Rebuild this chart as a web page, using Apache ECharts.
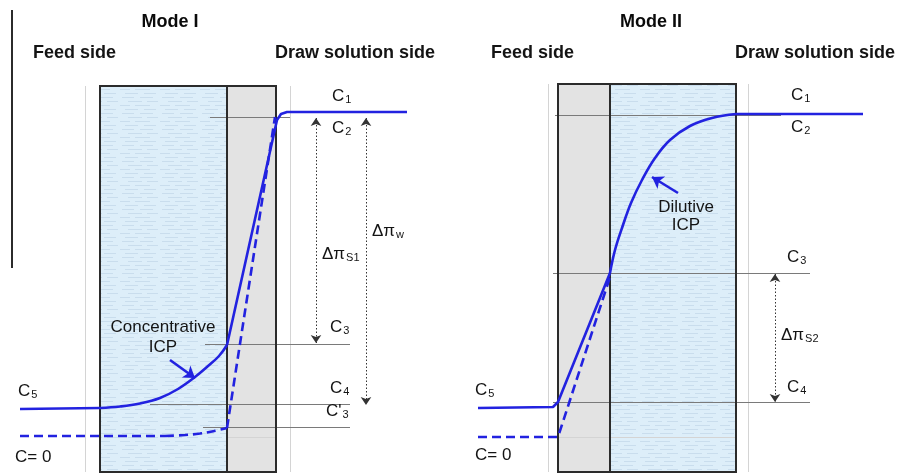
<!DOCTYPE html>
<html><head><meta charset="utf-8">
<script src="https://cdn.jsdelivr.net/npm/echarts@6/dist/echarts.min.js"></script>
<style>html,body{margin:0;padding:0;background:#fff}#c{width:898px;height:475px}</style>
</head><body><div id="c"></div>
<script>
// ---- data (diagram units = pixel-like scale of the schematic) ----
// membrane layers: [x0, y0, x1, y1, layer]
const membraneLayers = [
  [100, 86, 227, 472, 'support'], [227, 86, 276, 472, 'active'],
  [558, 84, 610, 472, 'active'], [610, 84, 736, 472, 'support']
];
const membraneOutlines = [[100, 86, 276, 472], [558, 84, 736, 472]];
const membraneDividers = [[227, 86, 227, 472], [610, 84, 610, 472]];

// concentration profiles
const modeISolidFlat = [[20, 409], [100, 408]];
const modeISolidICP = [[100, 408], [120, 406.5], [140, 403.5], [160, 398], [178, 389], [195, 377], [208, 366], [219, 356], [227, 345]];
const modeISolidActive = [[227, 345], [277, 120], [281, 114], [287, 112], [407, 112]];
const modeIDashedFlat = [[20, 436], [165, 436]];
const modeIDashedCurve = [[165, 436], [185, 435], [200, 433.5], [214, 431], [227, 428]];
const modeIDashedActive = [[227, 428], [275, 117]];
const modeIISolidFlat = [[863, 114], [736, 114]];
const modeIISolidICP = [[736, 114], [712, 118], [690, 126], [670, 140], [655, 158], [642, 180], [631, 203], [622, 228], [615, 250], [610, 273]];
const modeIISolidActive = [[610, 273], [558, 402], [553, 407], [478, 408]];
const modeIIDashed = [[478, 437], [558, 437], [610, 277]];

// concentration level guides: [x0, y0, x1, y1]
const levelGuides = [
  [210, 117, 290, 117], [205, 344, 350, 344], [150, 404, 350, 404], [203, 427, 350, 427],
  [555, 115, 781, 115], [553, 273, 810, 273], [553, 402, 810, 402]
];
const faintGuides = [
  [227, 437, 276, 437], [558, 437, 736, 437],
  [85, 86, 85, 472], [290, 86, 290, 472], [548, 84, 548, 472], [748, 84, 748, 472]
];
const sideBar = [[12, 10, 12, 268]];
const deltaArrows = [[316, 118, 316, 343], [366, 118, 366, 405], [775, 274, 775, 402]];
const icpPointers = [[170, 360, 195, 378], [678, 193, 652, 177]];

// texts: [text, x, y]
const sideTexts = [
  ['Feed side', 33, 53], ['Draw solution side', 275, 53],
  ['Feed side', 491, 53], ['Draw solution side', 735, 53]
];
const levelTexts = [
  ['C_1', 332, 96], ['C_2', 332, 128], ['Δπ_w', 372, 231], ['Δπ_S1', 322, 254],
  ['C_3', 330, 327], ['C_4', 330, 388], ["C'_3", 326, 411], ['C_5', 18, 391], ['C= 0', 15, 457],
  ['C_1', 791, 95], ['C_2', 791, 127], ['C_3', 787, 257], ['Δπ_S2', 781, 335],
  ['C_4', 787, 387], ['C_5', 475, 390], ['C= 0', 475, 455]
];
const centerTexts = [
  ['Concentrative', 163, 327], ['ICP', 163, 347], ['Dilutive', 686, 207], ['ICP', 686, 225]
];
const titleTexts = [['Mode I', 170, 22], ['Mode II', 651, 22]];

// ---- rendering ----
const pc = document.createElement('canvas');
pc.width = 40; pc.height = 16;
const g = pc.getContext('2d');
g.fillStyle = '#ddeef9'; g.fillRect(0, 0, 40, 16);
g.strokeStyle = 'rgba(150,180,210,0.28)'; g.lineWidth = 1;
[[1.5, 2, 14], [1.5, 20, 33], [5.5, 8, 22], [5.5, 27, 38], [9.5, 0, 10], [9.5, 15, 30], [13.5, 5, 18], [13.5, 24, 36]]
  .forEach(function (d) { g.beginPath(); g.moveTo(d[1], d[0]); g.lineTo(d[2], d[0]); g.stroke(); });
const supportFill = { image: pc, repeat: 'repeat' };

const FONT = 'Liberation Sans, Arial, sans-serif';
const BLUE = '#2222e0';
const INK = '#141414';

function segs(arr) { return arr.map(function (s) { return { coords: [[s[0], s[1]], [s[2], s[3]]] }; }); }
function pts(arr) { return arr.map(function (t) { return { value: [t[1], t[2]], name: t[0] }; }); }
function fmt(p) {
  const n = p.name, i = n.indexOf('_');
  return i < 0 ? '{m|' + n + '}' : '{m|' + n.slice(0, i) + '}{s|' + n.slice(i + 1) + '}';
}
const rich = {
  m: { fontSize: 17, color: INK, fontFamily: FONT, verticalAlign: 'middle', textBorderWidth: 0 },
  s: { fontSize: 11, color: INK, fontFamily: FONT, padding: [8, 0, 0, 1], verticalAlign: 'middle', textBorderWidth: 0 }
};
function lineSeries(data, dashed, smooth) {
  return {
    type: 'line', data: data, showSymbol: false, symbol: 'none', silent: true, z: 5,
    lineStyle: { color: BLUE, width: 2.6, type: dashed ? [9, 5] : 'solid' }, smooth: smooth || false
  };
}
function textSeries(data, align, extra) {
  const label = Object.assign({
    show: true, position: 'inside', align: align, verticalAlign: 'middle',
    color: INK, textBorderWidth: 0, textShadowBlur: 0, opacity: 1
  }, extra);
  return { type: 'scatter', silent: true, z: 8, symbolSize: 0, data: pts(data), itemStyle: { opacity: 0 }, label: label };
}

const chart = echarts.init(document.getElementById('c'), null, { renderer: 'canvas' });
chart.setOption({
  animation: false,
  backgroundColor: '#fff',
  grid: { left: 0, right: 0, top: 0, bottom: 0 },
  xAxis: { type: 'value', min: 0, max: 898, show: false },
  yAxis: { type: 'value', min: 0, max: 475, inverse: true, show: false },
  series: [
    {
      type: 'custom', silent: true, z: 1,
      data: membraneLayers.map(function (r) { return r.slice(0, 4); }),
      renderItem: function (params, api) {
        const a = api.coord([api.value(0), api.value(1)]);
        const b = api.coord([api.value(2), api.value(3)]);
        const kind = membraneLayers[params.dataIndex][4];
        return {
          type: 'rect',
          shape: { x: Math.min(a[0], b[0]), y: Math.min(a[1], b[1]), width: Math.abs(b[0] - a[0]), height: Math.abs(b[1] - a[1]) },
          style: { fill: kind === 'support' ? supportFill : '#e3e3e3' }
        };
      }
    },
    {
      type: 'lines', coordinateSystem: 'cartesian2d', silent: true, z: 2,
      data: segs(faintGuides), lineStyle: { color: '#d4d4d4', width: 1, opacity: 1 }
    },
    {
      type: 'lines', coordinateSystem: 'cartesian2d', silent: true, z: 3,
      data: segs(levelGuides), lineStyle: { color: '#7a7a7a', width: 1.2, opacity: 1 }
    },
    {
      type: 'custom', silent: true, z: 4,
      data: membraneOutlines,
      renderItem: function (params, api) {
        const a = api.coord([api.value(0), api.value(1)]);
        const b = api.coord([api.value(2), api.value(3)]);
        return {
          type: 'rect',
          shape: { x: Math.min(a[0], b[0]), y: Math.min(a[1], b[1]), width: Math.abs(b[0] - a[0]), height: Math.abs(b[1] - a[1]) },
          style: { fill: 'none', stroke: '#2b2b2b', lineWidth: 2 }
        };
      }
    },
    {
      type: 'lines', coordinateSystem: 'cartesian2d', silent: true, z: 4,
      data: segs(membraneDividers.concat(sideBar)), lineStyle: { color: '#2b2b2b', width: 2, opacity: 1 }
    },
    {
      type: 'lines', coordinateSystem: 'cartesian2d', silent: true, z: 4,
      data: segs(deltaArrows), symbol: ['arrow', 'arrow'], symbolSize: 8,
      lineStyle: { color: '#333', width: 1, type: [1.5, 2], opacity: 1 }
    },
    lineSeries(modeISolidFlat, false),
    lineSeries(modeISolidICP, false, 0.4),
    lineSeries(modeISolidActive, false),
    lineSeries(modeIDashedFlat, true),
    lineSeries(modeIDashedCurve, true, 0.4),
    lineSeries(modeIDashedActive, true),
    lineSeries(modeIISolidFlat, false),
    lineSeries(modeIISolidICP, false, 0.4),
    lineSeries(modeIISolidActive, false),
    lineSeries(modeIIDashed, true),
    {
      type: 'lines', coordinateSystem: 'cartesian2d', silent: true, z: 6,
      data: segs(icpPointers), symbol: ['none', 'arrow'], symbolSize: 11,
      lineStyle: { color: BLUE, width: 2.6, opacity: 1 }
    },
    textSeries(levelTexts, 'left', { formatter: fmt, rich: rich }),
    textSeries(centerTexts, 'center', { formatter: fmt, rich: rich }),
    textSeries(sideTexts, 'left', { formatter: function (p) { return p.name; }, fontSize: 18, fontWeight: 'bold', fontFamily: FONT }),
    textSeries(titleTexts, 'center', { formatter: function (p) { return p.name; }, fontSize: 18, fontWeight: 'bold', fontFamily: FONT, color: '#0a0a0a' })
  ]
});
</script></body></html>
